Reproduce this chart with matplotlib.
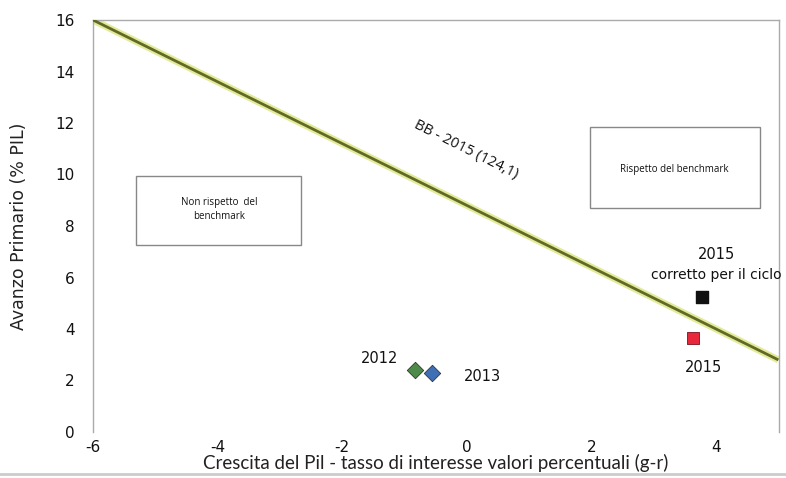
import matplotlib
matplotlib.use("Agg")
import matplotlib.pyplot as plt
from matplotlib.patches import Rectangle

plt.rcParams["axes.unicode_minus"] = False

# Data
line_x = [-6.0, 5.0]
line_y = [16.0, 2.8]
years = ["2012", "2013"]
pts_x = [-0.83, -0.56]
pts_y = [2.4, 2.3]
pts_colors = ["#4e8a4a", "#3f6fb5"]
x2015 = [3.63]
y2015 = [3.65]
x2015c = [3.77]
y2015c = [5.25]
xticks = [-6, -4, -2, 0, 2, 4]
yticks = [0, 2, 4, 6, 8, 10, 12, 14, 16]

fig = plt.figure(figsize=(7.86, 4.78), dpi=100)
ax = fig.add_axes([93/786, 1-432/478, 686/786, 412/478])
ax.set_xlim(-6, 5.01)
ax.set_ylim(0, 16)

ax.plot(line_x, line_y, color="#e4ea9a", lw=5, solid_capstyle="butt", zorder=2)
ax.plot(line_x, line_y, color="#5f6b25", lw=2, solid_capstyle="butt", zorder=3)

for x, y, c in zip(pts_x, pts_y, pts_colors):
    ax.scatter([x], [y], marker="D", s=70, color=c, edgecolor="#333333", lw=0.6, zorder=4)
ax.scatter(x2015, y2015, marker="s", s=75, color="#e8283a", edgecolor="#7a1020", lw=0.6, zorder=4)
ax.scatter(x2015c, y2015c, marker="s", s=85, color="#111111", zorder=4)

tf = dict(family="DejaVu Sans", fontsize=10.5, color="#111111")
ax.text(-1.4, 2.85, "2012", ha="center", va="center", **tf)
ax.text(0.25, 2.15, "2013", ha="center", va="center", **tf)
ax.text(4.0, 6.9, "2015", ha="center", va="center", **tf)
ax.text(4.0, 6.1, "corretto per il ciclo", ha="center", va="center", family="DejaVu Sans", fontsize=10, color="#111111")
ax.text(3.8, 2.5, "2015", ha="center", va="center", **tf)

ax.text(-0.02, 10.95, "BB - 2015 (124,1)", rotation=-26.5, ha="center", va="center",
        family="Open Sans", fontsize=10.5, color="#111111", rotation_mode="anchor")

ax.add_patch(Rectangle((-5.31, 7.26), 2.65, 2.7, fill=False, edgecolor="#888888", lw=1, zorder=3))
ax.text(-3.98, 8.65, "Non rispetto  del\nbenchmark", ha="center", va="center",
        family="Open Sans", fontsize=7, color="#111111", linespacing=1.4)
ax.add_patch(Rectangle((1.97, 8.70), 2.73, 3.14, fill=False, edgecolor="#888888", lw=1, zorder=3))
ax.text(3.33, 10.2, "Rispetto del benchmark", ha="center", va="center",
        family="Open Sans", fontsize=7, color="#111111")

ax.set_xticks(xticks)
ax.set_yticks(yticks)
ax.tick_params(length=0, labelsize=11, colors="#111111", pad=13)
ax.tick_params(axis="x", pad=6)
for lab in ax.get_xticklabels() + ax.get_yticklabels():
    lab.set_fontfamily("DejaVu Sans")

for s in ["left", "right", "top"]:
    ax.spines[s].set_color("#aaaaaa")
    ax.spines[s].set_linewidth(1)
ax.spines["bottom"].set_visible(False)

ax.set_ylabel("Avanzo Primario (% PIL)", fontsize=12.5, family="DejaVu Sans", color="#222222", labelpad=20)
ax.set_xlabel("Crescita del Pil - tasso di interesse valori percentuali (g-r)", fontsize=13.5,
              family="Lato", color="#222222", labelpad=-1)

fig.add_artist(plt.Line2D([0, 1], [1-474/478, 1-474/478], color="#cccccc", lw=2))
fig.savefig("out.png", dpi=100)
